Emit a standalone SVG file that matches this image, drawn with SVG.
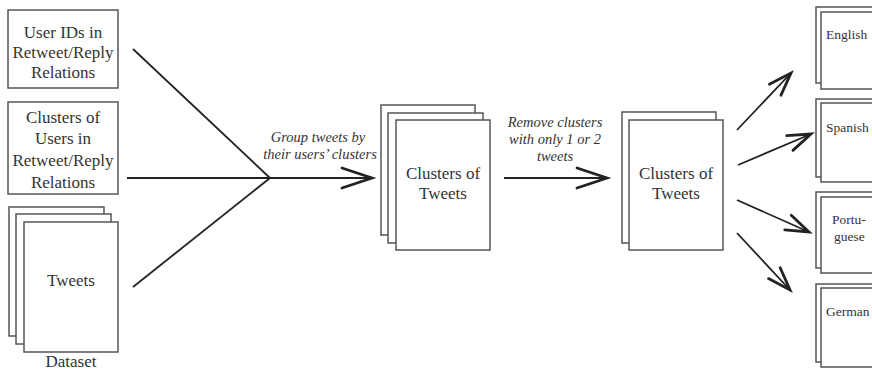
<svg xmlns="http://www.w3.org/2000/svg" width="872" height="371" viewBox="0 0 872 371" font-family="Liberation Serif, DejaVu Serif, Times New Roman, serif">
<defs>
<style>
.pg{fill:#fff;stroke:#555;stroke-width:1.5}
.t{font-size:17px;fill:#333;text-anchor:middle}
.ts{font-size:13.5px;fill:#333}
.lb{font-size:14.5px;font-style:italic;fill:#333;text-anchor:middle}
.ln{fill:none;stroke:#222;stroke-width:1.8}
.ah{fill:none;stroke:#222;stroke-width:2.8;stroke-linejoin:miter;stroke-linecap:round}
</style>
<marker id="big" markerUnits="userSpaceOnUse" viewBox="-34 -12 36 24" refX="0" refY="0" markerWidth="36" markerHeight="24" orient="auto" overflow="visible">
<path class="ah" d="M-30,-10 L0,0 L-30,10"/>
</marker>
<marker id="sm" markerUnits="userSpaceOnUse" viewBox="-26 -10 28 20" refX="0" refY="0" markerWidth="28" markerHeight="20" orient="auto" overflow="visible">
<path class="ah" d="M-23,-8 L0,0 L-23,8"/>
</marker>
</defs>

<g id="userids">
<rect class="pg" x="8" y="10" width="110" height="78"/>
<text class="t" x="63" y="38">User IDs in</text>
<text class="t" x="63" y="58">Retweet/Reply</text>
<text class="t" x="63" y="78">Relations</text>
</g>

<g id="userclusters">
<rect class="pg" x="8" y="102" width="110" height="92"/>
<text class="t" x="63" y="123">Clusters of</text>
<text class="t" x="63" y="144">Users in</text>
<text class="t" x="63" y="166">Retweet/Reply</text>
<text class="t" x="63" y="188">Relations</text>
</g>

<g id="dataset">
<rect class="pg" x="9" y="207" width="95" height="129"/>
<rect class="pg" x="16" y="214" width="95" height="130"/>
<rect class="pg" x="24" y="222" width="94" height="130"/>
<text class="t" x="71" y="286">Tweets</text>
<text class="t" x="71" y="367">Dataset</text>
</g>

<g id="clusters1">
<rect class="pg" x="381" y="105" width="94" height="130"/>
<rect class="pg" x="388" y="113" width="95" height="130"/>
<rect class="pg" x="396" y="120" width="94" height="130"/>
<text class="t" x="443" y="179">Clusters of</text>
<text class="t" x="443" y="199">Tweets</text>
</g>

<g id="clusters2">
<rect class="pg" x="622" y="112" width="94" height="131"/>
<rect class="pg" x="629" y="120" width="94" height="130"/>
<text class="t" x="676" y="179">Clusters of</text>
<text class="t" x="676" y="199">Tweets</text>
</g>

<g id="english">
<rect class="pg" x="816" y="7" width="70" height="76"/>
<rect class="pg" x="821" y="12" width="70" height="77"/>
<text class="ts" x="826" y="39">English</text>
</g>

<g id="spanish">
<rect class="pg" x="816" y="99" width="70" height="78"/>
<rect class="pg" x="821" y="103" width="70" height="79"/>
<text class="ts" x="826" y="132">Spanish</text>
</g>

<g id="portuguese">
<rect class="pg" x="816" y="192" width="70" height="76"/>
<rect class="pg" x="821" y="197" width="70" height="76"/>
<text class="ts" x="832" y="224">Portu-</text>
<text class="ts" x="834" y="241">guese</text>
</g>

<g id="german">
<rect class="pg" x="816" y="284" width="70" height="78"/>
<rect class="pg" x="821" y="288" width="70" height="79"/>
<text class="ts" x="826" y="316">German</text>
</g>

<g id="connectors">
<line class="ln" x1="133" y1="49" x2="270" y2="178"/>
<line class="ln" x1="127" y1="178" x2="270" y2="178"/>
<line class="ln" x1="133" y1="287" x2="270" y2="178"/>
<line class="ln" x1="270" y1="178" x2="372" y2="178" marker-end="url(#big)"/>
<text class="lb" x="318" y="142">Group tweets by</text>
<text class="lb" x="320" y="159">their users’ clusters</text>
<line class="ln" x1="504" y1="178" x2="607" y2="178" marker-end="url(#big)"/>
<text class="lb" x="555" y="127">Remove clusters</text>
<text class="lb" x="555" y="144">with only 1 or 2</text>
<text class="lb" x="555" y="161">tweets</text>
<line class="ln" x1="737" y1="130" x2="791" y2="73" marker-end="url(#sm)"/>
<line class="ln" x1="738" y1="165" x2="811" y2="134" marker-end="url(#sm)"/>
<line class="ln" x1="737" y1="200" x2="809" y2="232" marker-end="url(#sm)"/>
<line class="ln" x1="737" y1="233" x2="790" y2="290" marker-end="url(#sm)"/>
</g>
</svg>
